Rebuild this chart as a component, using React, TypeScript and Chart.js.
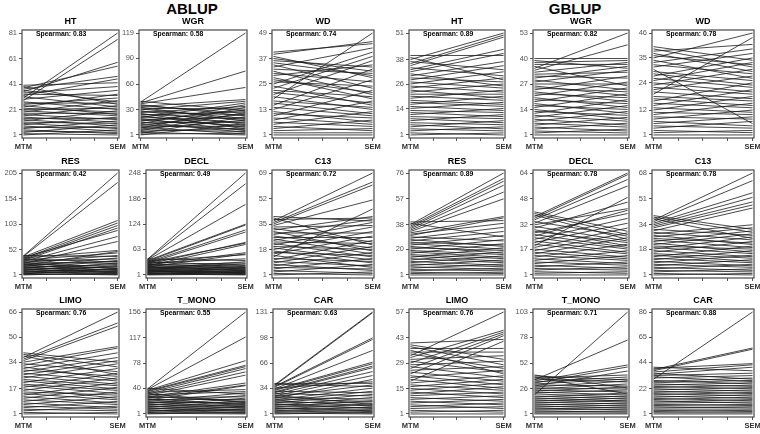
import React, { useEffect, useRef } from "react";
import { Chart, registerables } from "chart.js";

Chart.register(...registerables);
Chart.defaults.font.family = "'Liberation Sans', Arial, sans-serif";

// Rank of each individual under the MTM model (x = "MTM")
const mtmRank = [
  1, 2, 3, 4, 5, 6, 7, 8, 9, 10, 11, 12, 13, 14, 15, 16, 17, 18, 19, 20,
  21, 22, 23, 24, 25, 26, 27, 28, 29, 30, 31, 32, 33, 34, 35, 36, 37, 38, 39, 40,
];

const traits = ["HT", "WGR", "WD", "RES", "DECL", "C13", "LIMO", "T_MONO", "CAR"];
const methods = ["ABLUP", "GBLUP"];

// SEM rank of the same individuals (index = MTM rank - 1)
const ablupHT = [5, 1, 9, 3, 2, 12, 7, 4, 15, 6, 10, 20, 8, 14, 11, 24, 13, 18, 28, 16, 22, 19, 33, 17, 30, 26, 21, 76, 36, 81, 23, 45, 32, 39, 58, 27, 47, 55, 25, 42];
const ablupWGR = [14, 3, 22, 1, 9, 27, 5, 18, 33, 2, 11, 25, 7, 36, 16, 4, 30, 12, 21, 6, 38, 15, 10, 28, 19, 8, 34, 24, 13, 40, 20, 31, 17, 42, 26, 23, 56, 75, 119, 29];
const ablupWD = [1, 2, 4, 8, 3, 12, 5, 17, 6, 22, 9, 7, 27, 10, 32, 11, 14, 49, 13, 36, 16, 19, 38, 15, 40, 24, 21, 18, 34, 26, 20, 30, 42, 23, 29, 33, 31, 28, 45, 44];
const ablupRES = [6, 2, 14, 1, 9, 20, 4, 12, 3, 25, 8, 17, 5, 30, 11, 22, 7, 35, 15, 48, 10, 28, 18, 68, 13, 40, 24, 78, 33, 95, 45, 100, 27, 105, 50, 90, 110, 186, 205, 38];
const ablupDECL = [3, 8, 1, 12, 5, 2, 18, 7, 10, 4, 22, 14, 6, 28, 9, 16, 33, 11, 20, 52, 13, 25, 75, 17, 55, 30, 80, 19, 105, 40, 78, 110, 24, 122, 50, 124, 172, 222, 248, 36];
const ablupC13 = [3, 1, 8, 2, 12, 5, 16, 4, 20, 7, 24, 10, 45, 6, 27, 14, 9, 30, 11, 18, 33, 13, 22, 36, 15, 26, 19, 38, 29, 17, 40, 23, 34, 51, 61, 63, 69, 39, 21, 37];
const ablupLIMO = [2, 1, 6, 3, 9, 4, 12, 5, 15, 7, 18, 8, 21, 10, 13, 24, 11, 27, 14, 16, 30, 17, 19, 33, 20, 35, 22, 37, 25, 40, 23, 43, 28, 44, 57, 59, 66, 26, 31, 34];
const ablupT_MONO = [4, 1, 9, 2, 13, 6, 3, 17, 8, 5, 21, 11, 7, 25, 14, 10, 29, 19, 12, 33, 16, 44, 23, 15, 45, 27, 48, 20, 60, 35, 65, 18, 70, 38, 73, 75, 82, 118, 156, 31];
const ablupCAR = [3, 1, 6, 2, 10, 4, 14, 7, 5, 18, 9, 22, 12, 8, 26, 15, 30, 11, 34, 17, 45, 20, 38, 50, 13, 55, 24, 60, 62, 28, 65, 67, 82, 42, 96, 98, 130, 131, 36, 40];

const gblupHT = [2, 1, 5, 3, 8, 4, 6, 11, 7, 9, 14, 10, 12, 17, 13, 20, 15, 16, 23, 18, 21, 26, 19, 29, 22, 32, 24, 35, 27, 37, 25, 41, 43, 30, 49, 50, 33, 51, 28, 40];
const gblupWGR = [1, 4, 2, 7, 3, 10, 5, 13, 6, 16, 8, 19, 11, 9, 22, 14, 12, 25, 17, 15, 28, 20, 18, 31, 23, 21, 27, 34, 24, 36, 30, 33, 38, 47, 53, 26, 37, 39, 35, 40];
const gblupWD = [1, 3, 2, 7, 4, 9, 5, 12, 8, 15, 10, 18, 11, 21, 13, 24, 14, 16, 44, 17, 27, 19, 30, 20, 33, 22, 35, 23, 25, 6, 37, 28, 39, 26, 46, 32, 29, 41, 31, 34];
const gblupRES = [1, 3, 2, 6, 4, 9, 5, 12, 7, 15, 8, 18, 10, 21, 11, 13, 24, 14, 16, 27, 19, 17, 30, 20, 23, 33, 22, 36, 26, 43, 39, 44, 57, 62, 67, 70, 72, 76, 29, 41];
const gblupDECL = [1, 3, 2, 6, 4, 9, 5, 13, 7, 16, 8, 20, 10, 24, 11, 27, 12, 30, 49, 14, 33, 15, 36, 17, 41, 18, 39, 21, 19, 46, 22, 42, 56, 25, 60, 63, 64, 23, 26, 28];
const gblupC13 = [2, 1, 5, 3, 8, 4, 11, 6, 14, 7, 17, 9, 20, 10, 12, 23, 13, 26, 15, 18, 28, 16, 30, 19, 22, 32, 21, 34, 24, 45, 27, 47, 49, 52, 55, 63, 68, 25, 29, 31];
const gblupLIMO = [1, 3, 2, 5, 7, 4, 9, 6, 11, 8, 13, 16, 10, 18, 12, 20, 14, 22, 41, 15, 25, 17, 44, 19, 27, 45, 21, 30, 46, 24, 33, 47, 57, 26, 35, 23, 37, 28, 31, 42];
const gblupT_MONO = [1, 2, 4, 3, 6, 8, 5, 10, 7, 12, 9, 15, 11, 17, 13, 19, 14, 22, 16, 103, 18, 25, 20, 28, 23, 31, 26, 34, 44, 29, 36, 48, 38, 50, 75, 33, 40, 21, 35, 27];
const gblupCAR = [1, 2, 4, 3, 5, 7, 6, 9, 8, 11, 13, 10, 15, 12, 17, 14, 19, 16, 21, 18, 23, 20, 25, 22, 27, 24, 29, 31, 26, 86, 33, 28, 35, 40, 30, 42, 55, 56, 43, 37];

// Y tick labels per panel
const ablupTicks = [
  [1, 21, 41, 61, 81],
  [1, 30, 60, 90, 119],
  [1, 13, 25, 37, 49],
  [1, 52, 103, 154, 205],
  [1, 63, 124, 186, 248],
  [1, 18, 35, 52, 69],
  [1, 17, 34, 50, 66],
  [1, 40, 78, 117, 156],
  [1, 34, 66, 98, 131],
];
const gblupTicks = [
  [1, 14, 26, 38, 51],
  [1, 14, 27, 40, 53],
  [1, 12, 24, 35, 46],
  [1, 20, 38, 57, 76],
  [1, 17, 32, 48, 64],
  [1, 18, 34, 51, 68],
  [1, 15, 29, 43, 57],
  [1, 26, 52, 78, 103],
  [1, 22, 44, 65, 86],
];

const ablupSpearman = [0.83, 0.58, 0.74, 0.42, 0.49, 0.72, 0.76, 0.55, 0.63];
const gblupSpearman = [0.89, 0.82, 0.78, 0.89, 0.78, 0.78, 0.76, 0.71, 0.88];

const ablupSem = [ablupHT, ablupWGR, ablupWD, ablupRES, ablupDECL, ablupC13, ablupLIMO, ablupT_MONO, ablupCAR];
const gblupSem = [gblupHT, gblupWGR, gblupWD, gblupRES, gblupDECL, gblupC13, gblupLIMO, gblupT_MONO, gblupCAR];

// Plot box geometry (page pixels)
const colLeft = [
  [22, 22, 22],
  [139, 146, 146],
  [272, 272, 273],
  [409, 409, 409],
  [533, 533, 533],
  [652, 652, 652],
];
const colRight = [119, 247, 374, 505, 629, 754];
const rowTop = [30, 170, 309];
const rowBottom = [138, 278, 417];

const PAD_L = 28;
const PAD_T = 22;
const PAD_R = 14;
const PAD_B = 16;

type PanelSpec = {
  title: string;
  sem: number[];
  ticks: number[];
  rho: number;
  left: number;
  top: number;
  width: number;
  height: number;
};

const panels: PanelSpec[] = [];
methods.forEach((m, mi) => {
  traits.forEach((t, ti) => {
    const row = Math.floor(ti / 3);
    const col = mi * 3 + (ti % 3);
    const bl = colLeft[col][row];
    const br = colRight[col];
    panels.push({
      title: t,
      sem: mi === 0 ? ablupSem[ti] : gblupSem[ti],
      ticks: mi === 0 ? ablupTicks[ti] : gblupTicks[ti],
      rho: mi === 0 ? ablupSpearman[ti] : gblupSpearman[ti],
      left: bl,
      top: rowTop[row],
      width: br - bl,
      height: rowBottom[row] - rowTop[row],
    });
  });
});

const frameAndLabels = {
  id: "frameAndLabels",
  afterDraw(chart: any, _args: any, opts: any) {
    const { ctx, chartArea } = chart;
    const { left, top, right, bottom } = chartArea;
    ctx.save();
    ctx.strokeStyle = "#4a4a4a";
    ctx.lineWidth = 1.2;
    ctx.strokeRect(left, top, right - left, bottom - top);
    ctx.fillStyle = "#000";
    ctx.textBaseline = "middle";
    ctx.textAlign = "center";
    ctx.font = "bold 9px 'Liberation Sans', Arial, sans-serif";
    ctx.fillText(opts.title, (left + right) / 2, top - 8);
    ctx.textAlign = "left";
    ctx.font = "bold 6.8px 'Liberation Sans', Arial, sans-serif";
    ctx.fillText("Spearman: " + opts.rho.toFixed(2), left + 14, top + 4.5);
    ctx.restore();
  },
};

function Panel({ p }: { p: PanelSpec }) {
  const ref = useRef<HTMLCanvasElement>(null);
  const W = p.width + PAD_L + PAD_R;
  const H = p.height + PAD_T + PAD_B;

  useEffect(() => {
    if (!ref.current) return;
    const maxRank = p.ticks[p.ticks.length - 1];
    const yPad = (maxRank - 1) * 0.03;
    const chart = new Chart(ref.current, {
      type: "line",
      data: {
        datasets: p.sem.map((s, i) => ({
          data: [
            { x: 1, y: mtmRank[i] },
            { x: 2, y: s },
          ],
          borderColor: "#1b1b1b",
          borderWidth: 0.8,
          pointRadius: 0,
          fill: false,
          tension: 0,
        })),
      },
      options: {
        responsive: false,
        animation: false,
        events: [],
        layout: { padding: { left: 0, top: PAD_T, right: PAD_R, bottom: 0 } },
        plugins: {
          legend: { display: false },
          tooltip: { enabled: false },
          frameAndLabels: { title: p.title, rho: p.rho },
        } as any,
        scales: {
          x: {
            type: "linear",
            min: 1 - 0.015,
            max: 2 + 0.015,
            afterBuildTicks: (s: any) => {
              s.ticks = [1, 1.25, 1.5, 1.75, 2].map((v) => ({ value: v }));
            },
            afterFit: (s: any) => {
              s.height = PAD_B;
              s.paddingLeft = 0;
              s.paddingRight = 0;
            },
            ticks: {
              autoSkip: false,
              maxRotation: 0,
              padding: 1,
              color: "#333",
              font: { size: 7.5, weight: "bold" },
              callback: (v: any) => (v === 1 ? "MTM" : v === 2 ? "SEM" : ""),
            },
            grid: { drawOnChartArea: false, tickLength: 3, color: "#555" },
            border: { display: false },
          },
          y: {
            type: "linear",
            min: 1 - yPad,
            max: maxRank + yPad,
            afterBuildTicks: (s: any) => {
              s.ticks = p.ticks.map((v) => ({ value: v }));
            },
            afterFit: (s: any) => {
              s.width = PAD_L;
              s.paddingTop = 0;
              s.paddingBottom = 0;
            },
            ticks: {
              autoSkip: false,
              padding: 2,
              color: "#555",
              font: { size: 7.5 },
              callback: (v: any) => String(v),
            },
            grid: { drawOnChartArea: false, tickLength: 3, color: "#555" },
            border: { display: false },
          },
        },
      } as any,
      plugins: [frameAndLabels],
    });
    return () => chart.destroy();
  }, []);

  return (
    <canvas
      ref={ref}
      width={W}
      height={H}
      style={{
        position: "absolute",
        left: p.left - PAD_L,
        top: p.top - PAD_T,
        width: W,
        height: H,
      }}
    />
  );
}

const headingStyle: React.CSSProperties = {
  position: "absolute",
  top: 0,
  width: 120,
  textAlign: "center",
  fontFamily: "'Liberation Sans', Arial, sans-serif",
  fontWeight: "bold",
  fontSize: 15,
  lineHeight: "17px",
  color: "#000",
};

export default function App() {
  return (
    <div
      style={{
        position: "absolute",
        left: 0,
        top: 0,
        width: 760,
        height: 434,
        background: "#fff",
        overflow: "hidden",
      }}
    >
      <div style={{ ...headingStyle, left: 192 - 60 }}>{methods[0]}</div>
      <div style={{ ...headingStyle, left: 575 - 60 }}>{methods[1]}</div>
      {panels.map((p, i) => (
        <Panel key={i} p={p} />
      ))}
    </div>
  );
}
